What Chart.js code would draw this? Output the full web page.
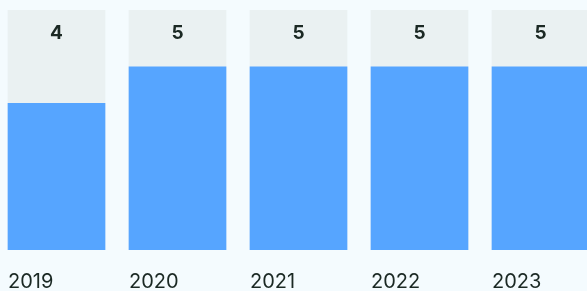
<!DOCTYPE html>
<html>
<head>
<meta charset="utf-8">
<script src="https://cdn.jsdelivr.net/npm/chart.js@4/dist/chart.umd.min.js"></script>
<style>
    html, body { margin: 0; padding: 0; background: #f4fbfe; overflow: hidden; }
    #wrap { position: absolute; left: -4px; top: 0; width: 605px; height: 291px; }
</style>
</head>
<body>
<div id="wrap"><canvas id="myChart" width="605" height="291"></canvas></div>
<script>
const years = ['2019', '2020', '2021', '2022', '2023'];
const scores = [4, 5, 5, 5, 5];
const scaleMax = 6.55;
const track = years.map(() => scaleMax);

const textColor = '#1b2924';

const valueLabels = {
    id: 'valueLabels',
    afterDatasetsDraw(chart) {
        const ctx = chart.ctx;
        const meta = chart.getDatasetMeta(0);
        const yTop = chart.scales.y.getPixelForValue(scaleMax);
        ctx.save();
        ctx.font = 'bold 19px Inter, "DejaVu Sans", sans-serif';
        ctx.fillStyle = textColor;
        ctx.textAlign = 'center';
        ctx.textBaseline = 'middle';
        meta.data.forEach((bar, i) => {
            ctx.fillText(String(scores[i]), bar.x, yTop + 23);
        });
        ctx.restore();
    }
};

new Chart(document.getElementById('myChart'), {
    type: 'bar',
    data: {
        labels: years,
        datasets: [
            {
                data: scores,
                backgroundColor: '#56a5ff',
                borderWidth: 0,
                barThickness: 97,
                grouped: false,
                order: 0
            },
            {
                data: track,
                backgroundColor: '#eaf1f2',
                borderWidth: 0,
                barThickness: 97,
                grouped: false,
                order: 1
            }
        ]
    },
    options: {
        responsive: false,
        animation: false,
        layout: { padding: { top: 10, left: 0, right: 0, bottom: 0 } },
        plugins: {
            legend: { display: false },
            tooltip: { enabled: false }
        },
        scales: {
            y: {
                display: false,
                min: 0,
                max: scaleMax
            },
            x: {
                grid: { display: false, drawTicks: false },
                border: { display: false },
                afterFit(scale) {
                    scale.height = 41;
                    scale.paddingLeft = 0;
                    scale.paddingRight = 0;
                },
                ticks: {
                    autoSkip: false,
                    maxRotation: 0,
                    align: 'start',
                    labelOffset: -48.5,
                    padding: 20,
                    color: textColor,
                    font: { family: 'Inter, "DejaVu Sans", sans-serif', size: 20 }
                }
            }
        }
    },
    plugins: [valueLabels]
});
</script>
</body>
</html>
